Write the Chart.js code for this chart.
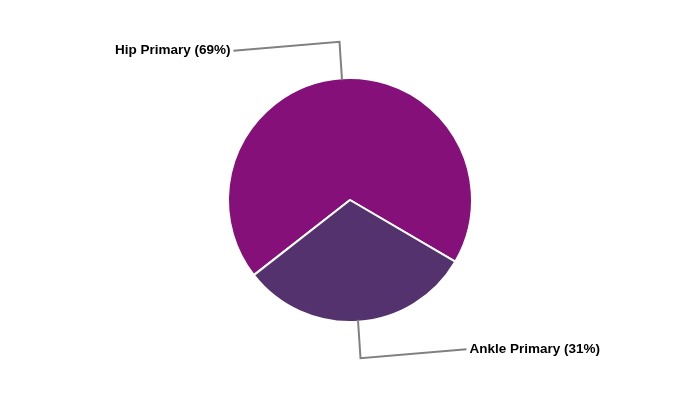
<!DOCTYPE html>
<html>
<head>
<meta charset="utf-8">
<script src="https://cdn.jsdelivr.net/npm/chart.js@4"></script>
<style>
html,body{margin:0;padding:0;background:#fff;}
#wrap{width:700px;height:400px;}
</style>
</head>
<body>
<div id="wrap"><canvas id="c" width="700" height="400"></canvas></div>
<script>
const categories = ["Hip Primary", "Ankle Primary"];
const values = [69, 31];
const colors = ["#85107A", "#53326E"];

const total = values.reduce((a, b) => a + b, 0);

const leaderPlugin = {
  id: 'leaders',
  afterDraw(chart) {
    const ctx = chart.ctx;
    const meta = chart.getDatasetMeta(0);
    ctx.save();
    meta.data.forEach((arc, i) => {
      const mid = (arc.startAngle + arc.endAngle) / 2;
      const r = arc.outerRadius;
      const c = Math.cos(mid), s = Math.sin(mid);
      const x1 = arc.x + c * (r - 2), y1 = arc.y + s * (r - 2);
      const x2 = arc.x + c * r * 1.30, y2 = arc.y + s * r * 1.30;
      const dir = c >= 0 ? 1 : -1;
      const x3 = x2 + dir * 106;
      const y3 = y2 + (s > 0 ? -9 : 9);
      ctx.strokeStyle = '#808080';
      ctx.lineWidth = 2;
      ctx.beginPath();
      ctx.moveTo(x1, y1);
      ctx.lineTo(x2, y2);
      ctx.lineTo(x3, y3);
      ctx.stroke();
      const pct = Math.round(values[i] / total * 100);
      ctx.fillStyle = '#000';
      ctx.font = 'bold 13.5px "Liberation Sans", Arial, sans-serif';
      ctx.textBaseline = 'middle';
      ctx.textAlign = dir > 0 ? 'left' : 'right';
      ctx.fillText(categories[i] + ' (' + pct + '%)', x3 + dir * 3, y3);
    });
    ctx.restore();
  }
};

new Chart(document.getElementById('c'), {
  type: 'pie',
  data: {
    labels: categories,
    datasets: [{
      data: values,
      backgroundColor: colors,
      borderColor: '#ffffff',
      borderWidth: 2
    }]
  },
  options: {
    responsive: false,
    animation: false,
    rotation: 232,
    layout: { padding: { top: 77, bottom: 77, left: 0, right: 0 } },
    plugins: {
      legend: { display: false },
      tooltip: { enabled: false }
    }
  },
  plugins: [leaderPlugin]
});
</script>
</body>
</html>
